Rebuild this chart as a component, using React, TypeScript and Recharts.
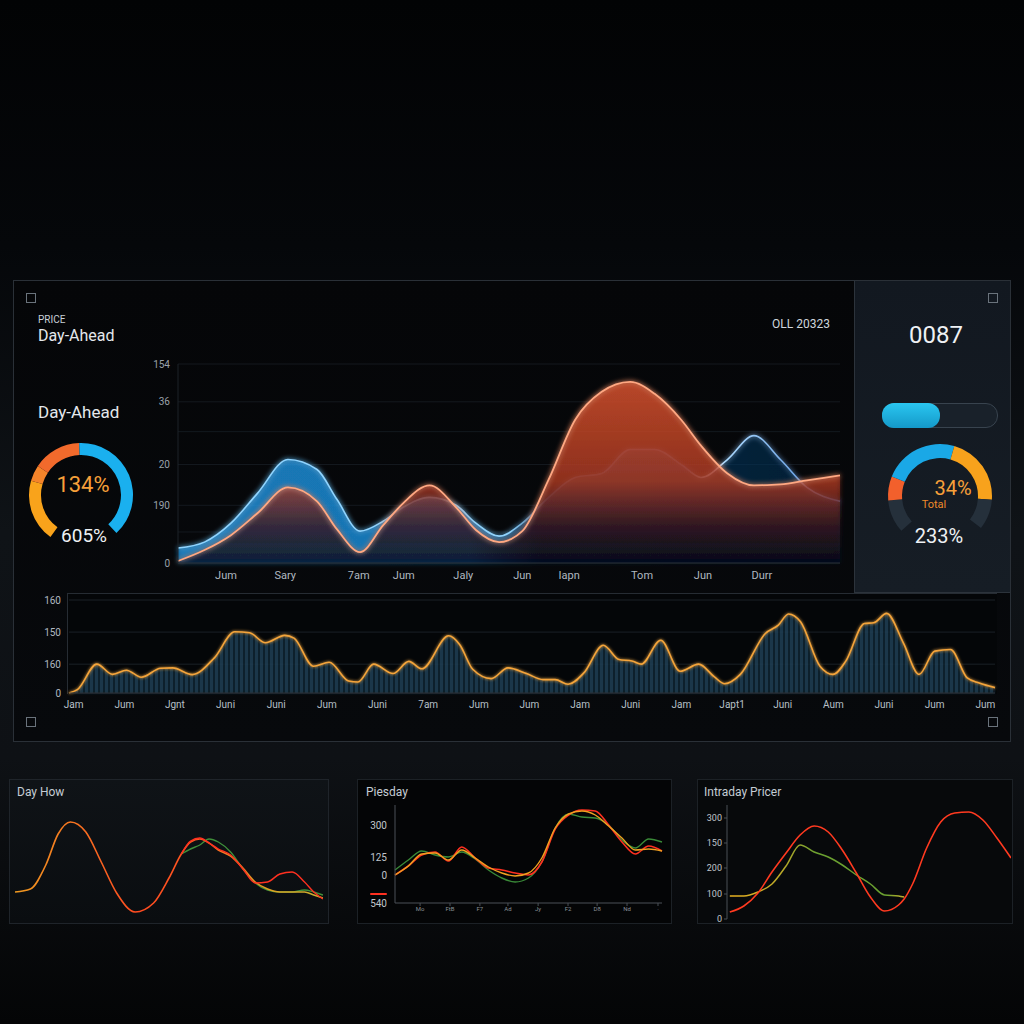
import React from "react";
import {
  AreaChart, Area, LineChart, Line, XAxis, YAxis, CartesianGrid,
  PieChart, Pie, Cell
} from "recharts";

// ---- main Day-Ahead chart ----
const mainX = [0, 4, 8, 12, 16.6, 21, 24, 27.5, 31, 34, 38, 42, 45, 48.5, 52, 56, 60, 64, 68.3, 72, 76, 79, 83, 87, 91, 95, 100];
const dayAhead = [1, 6.5, 14, 25, 38, 31, 17, 5.5, 19, 30, 39, 28, 16.6, 10.5, 16, 42, 72, 86, 91, 85, 72, 59, 45, 39, 39.5, 41.5, 44];
const intraday = [7.5, 10.5, 20, 35, 52, 47, 32, 16, 21, 28, 33, 29, 20, 13.5, 20, 33, 43, 45, 57, 57, 49.5, 43, 52, 64, 52, 38, 31];
const mainXTicks = [7.25, 16.2, 27.3, 34.1, 43.1, 52, 59.1, 70.1, 79.3, 88.2];
const mainXLabels = ["Jum", "Sary", "7am", "Jum", "Jaly", "Jun", "Iapn", "Tom", "Jun", "Durr"];
const mainYTicks = [0, 15.6, 29, 49.5, 66, 81, 100];
const mainYLabels = ["0", "", "190", "20", "", "36", "154"];

// ---- bottom striped volume chart ----
const volX = [0, 0.9, 3.0, 4.7, 6.2, 7.8, 9.9, 11.2, 13.3, 15.7, 17.9, 19.5, 21.2, 23.3, 24.3, 26.4, 28.1, 30.2, 31.2, 32.9, 35.0, 36.7, 38.1, 41.0, 42.2, 43.6, 45.6, 47.4, 49.4, 51.2, 52.5, 53.9, 55.6, 57.7, 59.4, 60.8, 61.8, 63.9, 66.0, 68.0, 69.7, 70.8, 72.5, 75.2, 76.6, 77.7, 79.0, 81.1, 82.5, 83.9, 85.9, 86.9, 88.3, 90.1, 91.8, 93.5, 95.2, 97.0, 98.3, 100];
const volume = [0, 3.6, 31, 20, 24.5, 17, 26.6, 27, 19.8, 37.8, 65.8, 64.7, 54, 62, 59, 28.8, 33, 13, 11.9, 31, 20.9, 34, 26, 61.5, 52, 25.5, 15.5, 27, 20.9, 14.4, 14.4, 9.4, 21.6, 51.4, 36, 34.5, 31, 56.8, 23.4, 31, 17.3, 10, 20, 64, 73, 85, 76.6, 28.8, 20, 34.5, 74.8, 75.5, 85.6, 54, 20, 45, 46.8, 16.2, 10.8, 5.8];
const volXLabels = ["Jam", "Jum", "Jgnt", "Juni", "Juni", "Jum", "Juni", "7am", "Jum", "Jum", "Jam", "Juni", "Jam", "Japt1", "Juni", "Aum", "Juni", "Jum", "Jum"];
const volXTicks = volXLabels.map((_, i) => 0.5 + i * 5.47);
const volYTicks = [0, 31, 65.5, 100];
const volYLabels = ["0", "160", "150", "160"];

// ---- small panel: Day How ----
const p1X = [0, 5, 10, 14, 18, 23, 28, 33, 39, 45, 50, 54, 57, 60, 63, 66, 70, 74, 78, 82, 86, 90, 94, 97, 100];
const p1Orange = [28, 31, 55, 86, 98, 88, 58, 27, 8, 17, 42, 66, 78, 81, 77, 70, 64, 52, 38, 31, 28, 28, 28, 25, 22];
const p1Red = [null, null, null, null, null, null, null, null, null, null, null, 66, 79, 82, 77, 71, 65, 51, 37, 38, 46, 48, 38, 28, 21];
const p1Green = [null, null, null, null, null, null, null, null, null, null, null, 66, 71, 75, 81, 78, 68, 51, 37, 30, 28, 28, 30, 28, 25];

// ---- small panel: Piesday ----
const p2X = [0, 5, 10, 15, 20, 25, 30, 35, 40, 45, 50, 55, 60, 65, 70, 75, 80, 85, 90, 95, 100];
const p2Orange = [0, 36, 84, 88, 60, 100, 68, 32, 8, -4, 8, 68, 188, 244, 256, 240, 196, 148, 100, 104, 96];
const p2Red = [0, 36, 80, 92, 56, 112, 68, 28, 20, 8, 0, 52, 184, 240, 260, 256, 200, 132, 84, 116, 96];
const p2Green = [20, 60, 96, 80, 72, 92, 64, 20, -12, -28, -12, 52, 188, 244, 232, 228, 200, 140, 108, 144, 132];
const p2YTicks = [-112, 0, 72, 200];
const p2YLabels = ["540", "0", "125", "300"];
const p2XTicks = [9.4, 20.6, 31.8, 42.3, 53.6, 64.8, 75.7, 86.9, 98.5];
const p2XLabels = ["Mo", "FtB", "F7", "Ad", "Jy", "F2", "D8", "Nd", "·"];

// ---- small panel: Intraday Pricer ----
const p3X = [0, 5, 10, 15, 20, 25, 30, 35, 40, 45, 50, 55, 60, 62, 65, 70, 75, 80, 85, 90, 95, 100];
const p3Red = [7, 13, 26, 47, 66, 84, 93, 87, 69, 46, 22, 8, 14, 20, 35, 71, 97, 106, 107, 99, 81, 61];
const p3Mix = [23, 23, 27, 35, 53, 74, 67, 62, 54, 44, 35, 24, 23, 22, null, null, null, null, null, null, null, null];
const p3YTicks = [0, 25, 51, 76, 101];
const p3YLabels = ["0", "100", "200", "150", "300"];

// ---- gauges ----
const leftGauge = [70, 18, 54, 139];
const leftGaugeColors = ["#f9a31b", "#f5842a", "#f26a2c", "#1ab0ef"];
const rightGauge = [37, 27, 84, 78, 34];
const rightGaugeColors = ["#25303b", "#f2602c", "#1aa8e6", "#f8a21c", "#25303b"];

const mainData = mainX.map((x, i) => ({ x, da: dayAhead[i], id: intraday[i] }));
const volData = volX.map((x, i) => ({ x, v: volume[i] }));
const p1Data = p1X.map((x, i) => ({ x, o: p1Orange[i], r: p1Red[i], g: p1Green[i] }));
const p2Data = p2X.map((x, i) => ({ x, o: p2Orange[i], r: p2Red[i], g: p2Green[i] }));
const p3Data = p3X.map((x, i) => ({ x, r: p3Red[i], m: p3Mix[i] }));

const FONT = "Roboto, 'DejaVu Sans', sans-serif";

const lab = (ticks: number[], labels: string[]) => (v: number) => {
  const i = ticks.indexOf(v);
  return i >= 0 ? labels[i] : "";
};

function Txt({ x, y, size, color, children, center = false, weight = 400 }: any) {
  return (
    <div style={{
      position: "absolute", left: x, top: y - size * 0.6, fontSize: size, lineHeight: `${size * 1.2}px`,
      color, fontWeight: weight, whiteSpace: "nowrap",
      transform: center ? "translateX(-50%)" : undefined,
    }}>{children}</div>
  );
}

function Gauge({ cx, cy, values, colors, start, end, inner, outer }: any) {
  const data = values.map((v: number, i: number) => ({ v, i }));
  const s = outer * 2 + 4;
  return (
    <div style={{ position: "absolute", left: cx - s / 2, top: cy - s / 2 }}>
      <PieChart width={s} height={s}>
        <Pie data={data} dataKey="v" cx="50%" cy="50%" innerRadius={inner} outerRadius={outer}
          startAngle={start} endAngle={end} stroke="none" isAnimationActive={false}>
          {data.map((d: any, i: number) => <Cell key={i} fill={colors[i]} />)}
        </Pie>
      </PieChart>
    </div>
  );
}

const Icon = ({ x, y }: any) => (
  <div style={{ position: "absolute", left: x, top: y, width: 8, height: 8, border: "1px solid #6a737c" }} />
);

export default function App() {
  return (
    <div style={{
      position: "absolute", left: 0, top: 0, width: 1024, height: 1024, overflow: "hidden", fontFamily: FONT,
      background: "linear-gradient(180deg, #020304 0%, #05070a 24%, #0f1317 52%, #0e1115 74%, #040506 100%)",
    }}>
      {/* main frame */}
      <div style={{ position: "absolute", left: 13, top: 280, width: 996, height: 460, border: "1px solid #2a3037", background: "linear-gradient(180deg,#050608,#07090c)" }} />
      <div style={{ position: "absolute", left: 854, top: 281, width: 155, height: 311, background: "linear-gradient(180deg,#121820,#161d25)", borderLeft: "1px solid #2c333b", borderBottom: "1px solid #2c333b" }} />
      <div style={{ position: "absolute", left: 67, top: 593, width: 929, height: 100, background: "#040608", borderTop: "1px solid #262c33", borderLeft: "1px solid #262c33" }} />

      <Icon x={26} y={293} />
      <Icon x={988} y={293} />
      <Icon x={26} y={717} />
      <Icon x={988} y={717} />

      <Txt x={38} y={320} size={10} color="#c8d0d8">PRICE</Txt>
      <Txt x={38} y={336} size={16} color="#e4e8ec">Day-Ahead</Txt>
      <Txt x={38} y={412} size={17} color="#e4e8ec">Day-Ahead</Txt>
      <Txt x={772} y={324} size={12} color="#cfd6dd">OLL 20323</Txt>

      <Gauge cx={81} cy={495} values={leftGauge} colors={leftGaugeColors} start={234} end={-47} inner={40} outer={52} />
      <Txt x={83} y={485} size={22} color="#f7a03a" center>134%</Txt>
      <Txt x={84} y={536} size={19} color="#eef1f4" center>605%</Txt>

      {/* right side panel */}
      <Txt x={936} y={335} size={24} color="#eef1f4" center>0087</Txt>
      <div style={{ position: "absolute", left: 882, top: 403, width: 114, height: 23, borderRadius: 12, border: "1px solid #38434e", background: "#19212a" }} />
      <div style={{ position: "absolute", left: 882, top: 403, width: 58, height: 25, borderRadius: 12, background: "linear-gradient(180deg,#2ac6f0,#1499c9)" }} />
      <Gauge cx={940} cy={496} values={rightGauge} colors={rightGaugeColors} start={222} end={-38} inner={38} outer={52} />
      <Txt x={953} y={488} size={20} color="#f7a03a" center>34%</Txt>
      <Txt x={934} y={505} size={11} color="#f08a2a" center>Total</Txt>
      <Txt x={939} y={536} size={20} color="#eef1f4" center>233%</Txt>

      {/* main area chart */}
      <div style={{ position: "absolute", left: 150, top: 350 }}>
        <AreaChart width={700} height={240} data={mainData} margin={{ top: 14, right: 10, bottom: 0, left: 0 }}>
          <defs>
            <linearGradient id="redFill" x1="0" y1="0" x2="0" y2="1">
              <stop offset="0" stopColor="#e0552f" stopOpacity={0.95} />
              <stop offset="0.55" stopColor="#b03a22" stopOpacity={0.92} />
              <stop offset="0.8" stopColor="#3a1418" stopOpacity={0.88} />
              <stop offset="1" stopColor="#070a12" stopOpacity={0.82} />
            </linearGradient>
            <linearGradient id="blueFill" x1="0" y1="0" x2="1" y2="0">
              <stop offset="0" stopColor="#1f98e6" stopOpacity={0.9} />
              <stop offset="0.44" stopColor="#1a8fe0" stopOpacity={0.9} />
              <stop offset="0.55" stopColor="#0e3d6e" stopOpacity={0.6} />
              <stop offset="1" stopColor="#0d2f55" stopOpacity={0.55} />
            </linearGradient>
            <linearGradient id="blueLine" x1="0" y1="0" x2="1" y2="0">
              <stop offset="0" stopColor="#8fd4ff" />
              <stop offset="0.5" stopColor="#8fd4ff" />
              <stop offset="0.56" stopColor="#24507e" />
              <stop offset="0.77" stopColor="#24507e" />
              <stop offset="0.82" stopColor="#b0dcff" />
              <stop offset="1" stopColor="#4a86d8" />
            </linearGradient>
            <filter id="glowR" x="-10%" y="-20%" width="120%" height="140%">
              <feGaussianBlur stdDeviation="2.5" result="b" />
              <feMerge><feMergeNode in="b" /><feMergeNode in="SourceGraphic" /></feMerge>
            </filter>
          </defs>
          <CartesianGrid vertical={false} stroke="#14191f" />
          <XAxis dataKey="x" type="number" domain={[0, 100]} ticks={mainXTicks} interval={0}
            tickFormatter={lab(mainXTicks, mainXLabels)} tickLine={false} height={27}
            axisLine={{ stroke: "#2a3037" }} tick={{ fill: "#b0b8c0", fontSize: 11 }} />
          <YAxis type="number" domain={[0, 100]} ticks={mainYTicks} interval={0} width={28}
            tickFormatter={lab(mainYTicks, mainYLabels)} tickLine={false}
            axisLine={{ stroke: "#1c2228" }} tick={{ fill: "#9aa2aa", fontSize: 10 }} />
          <Area type="monotone" dataKey="id" stroke="url(#blueLine)" strokeWidth={1.6} fill="url(#blueFill)"
            isAnimationActive={false} filter="url(#glowR)" />
          <Area type="monotone" dataKey="da" stroke="#ffa882" strokeWidth={1.8} fill="url(#redFill)"
            isAnimationActive={false} filter="url(#glowR)" />
        </AreaChart>
      </div>

      {/* striped volume chart */}
      <div style={{ position: "absolute", left: 40, top: 590 }}>
        <AreaChart width={965} height={130} data={volData} margin={{ top: 10, right: 10, bottom: 0, left: 0 }}>
          <defs>
            <pattern id="stripes" width="5" height="8" patternUnits="userSpaceOnUse">
              <rect width="5" height="8" fill="#0e1b25" />
              <rect width="3" height="8" fill="#21435a" />
            </pattern>
            <filter id="glowO" x="-5%" y="-20%" width="110%" height="140%">
              <feGaussianBlur stdDeviation="1.5" result="b" />
              <feMerge><feMergeNode in="b" /><feMergeNode in="SourceGraphic" /></feMerge>
            </filter>
          </defs>
          <CartesianGrid vertical={false} stroke="#1a2027" />
          <XAxis dataKey="x" type="number" domain={[0, 100]} ticks={volXTicks} interval={0}
            tickFormatter={lab(volXTicks, volXLabels)} tickLine={false} height={27}
            axisLine={{ stroke: "#2a3037" }} tick={{ fill: "#b8c0c8", fontSize: 10 }} />
          <YAxis type="number" domain={[0, 100]} ticks={volYTicks} interval={0} width={29}
            tickFormatter={lab(volYTicks, volYLabels)} tickLine={false} axisLine={false}
            tick={{ fill: "#b0b8c0", fontSize: 10 }} />
          <Area type="monotone" dataKey="v" stroke="#f4a43a" strokeWidth={1.6} fill="url(#stripes)"
            isAnimationActive={false} filter="url(#glowO)" />
        </AreaChart>
      </div>

      {/* small panels */}
      <div style={{ position: "absolute", left: 9, top: 779, width: 318, height: 143, border: "1px solid #1f242a", background: "linear-gradient(180deg,#0f1317,#0a0d10)" }} />
      <div style={{ position: "absolute", left: 357, top: 779, width: 313, height: 143, border: "1px solid #1c2126", background: "#040506" }} />
      <div style={{ position: "absolute", left: 697, top: 779, width: 314, height: 143, border: "1px solid #1c2126", background: "#07090b" }} />
      <Txt x={17} y={792} size={12} color="#c4ccd4">Day How</Txt>
      <Txt x={366} y={792} size={12} color="#c4ccd4">Piesday</Txt>
      <Txt x={704} y={792} size={12} color="#c4ccd4">Intraday Pricer</Txt>

      <div style={{ position: "absolute", left: 15, top: 800 }}>
        <LineChart width={308} height={120} data={p1Data} margin={{ top: 0, right: 0, bottom: 0, left: 0 }}>
          <defs>
            <linearGradient id="p1o" x1="0" y1="0" x2="1" y2="0">
              <stop offset="0" stopColor="#f09a20" />
              <stop offset="0.4" stopColor="#ff4a20" />
              <stop offset="0.6" stopColor="#ff5a20" />
              <stop offset="0.82" stopColor="#e0a020" />
              <stop offset="1" stopColor="#c8b030" />
            </linearGradient>
          </defs>
          <XAxis dataKey="x" type="number" domain={[0, 100]} hide />
          <YAxis type="number" domain={[0, 120]} hide />
          <Line type="monotone" dataKey="g" stroke="#3f8f3a" strokeWidth={1.4} dot={false} connectNulls isAnimationActive={false} />
          <Line type="monotone" dataKey="o" stroke="url(#p1o)" strokeWidth={1.6} dot={false} isAnimationActive={false} />
          <Line type="monotone" dataKey="r" stroke="#ff3020" strokeWidth={1.4} dot={false} connectNulls isAnimationActive={false} />
        </LineChart>
      </div>

      <div style={{ position: "absolute", left: 360, top: 800 }}>
        <LineChart width={305} height={118} data={p2Data} margin={{ top: 5, right: 3, bottom: 0, left: 0 }}>
          <XAxis dataKey="x" type="number" domain={[0, 100]} ticks={p2XTicks} interval={0}
            tickFormatter={lab(p2XTicks, p2XLabels)} tickSize={3} tickMargin={1} height={15}
            axisLine={{ stroke: "#4a5057" }} tickLine={{ stroke: "#4a5057" }} tick={{ fill: "#8a9096", fontSize: 6 }} />
          <YAxis type="number" domain={[-112, 280]} ticks={p2YTicks} interval={0} width={35}
            tickFormatter={lab(p2YTicks, p2YLabels)} tickLine={false}
            axisLine={{ stroke: "#4a5057" }} tick={{ fill: "#c0c6cc", fontSize: 10 }} />
          <Line type="monotone" dataKey="g" stroke="#3a8a38" strokeWidth={1.4} dot={false} isAnimationActive={false} />
          <Line type="monotone" dataKey="r" stroke="#ff3020" strokeWidth={1.6} dot={false} isAnimationActive={false} />
          <Line type="monotone" dataKey="o" stroke="#f0a020" strokeWidth={1.4} dot={false} isAnimationActive={false} />
        </LineChart>
      </div>
      <div style={{ position: "absolute", left: 370, top: 893, width: 17, height: 2, background: "#ff3020", borderRadius: 1 }} />

      <div style={{ position: "absolute", left: 690, top: 801 }}>
        <LineChart width={321} height={124} data={p3Data} margin={{ top: 4, right: 0, bottom: 6, left: 0 }}>
          <defs>
            <linearGradient id="p3m" x1="0" y1="0" x2="1" y2="0">
              <stop offset="0" stopColor="#e8b020" />
              <stop offset="0.3" stopColor="#b8a828" />
              <stop offset="0.5" stopColor="#6aa030" />
              <stop offset="0.9" stopColor="#6aa030" />
              <stop offset="1" stopColor="#c8b028" />
            </linearGradient>
          </defs>
          <XAxis dataKey="x" type="number" domain={[-1, 100]} hide />
          <YAxis type="number" domain={[0, 114]} ticks={p3YTicks} interval={0} width={37}
            tickFormatter={lab(p3YTicks, p3YLabels)} tickSize={3}
            axisLine={{ stroke: "#4a5057" }} tickLine={{ stroke: "#4a5057" }} tick={{ fill: "#c0c6cc", fontSize: 9 }} />
          <Line type="monotone" dataKey="m" stroke="url(#p3m)" strokeWidth={1.5} dot={false} isAnimationActive={false} />
          <Line type="monotone" dataKey="r" stroke="#ff3a20" strokeWidth={1.6} dot={false} isAnimationActive={false} />
        </LineChart>
      </div>
    </div>
  );
}
